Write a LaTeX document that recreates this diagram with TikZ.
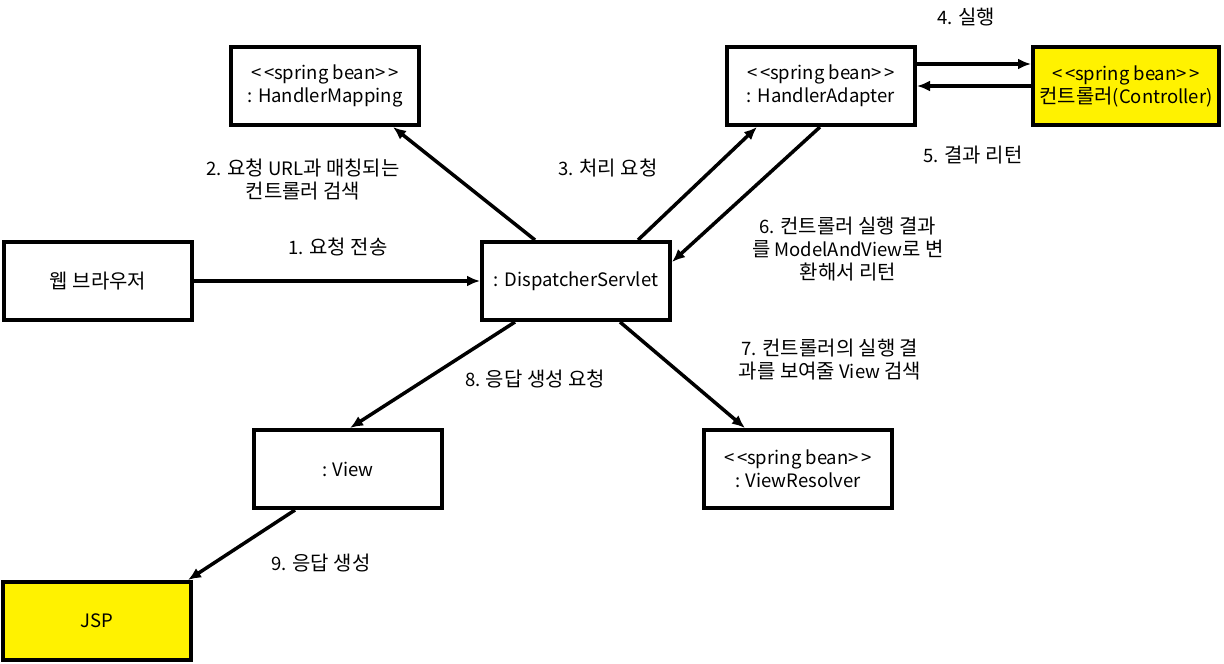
\documentclass[tikz,border=0pt]{standalone}
\usepackage{fontspec}
\setmainfont{Noto Sans CJK KR}
\newfontfamily\kr[Scale=1.078]{Noto Sans CJK KR}
\usetikzlibrary{arrows.meta}
\newcommand{\sbean}{<\kern2.5pt<spring bean>\kern2.5pt>}
\begin{document}
\begin{tikzpicture}[x=1pt,y=-1pt,
  box/.style={draw=black,line width=4pt,minimum width=188pt,minimum height=78pt,inner sep=0pt,align=center,font=\fontsize{18.5}{23}\selectfont},
  ybox/.style={box,fill=yellow},
  arr/.style={line width=3.5pt,-{Latex[length=13pt,width=11pt]}},
  lbl/.style={align=center,font=\fontsize{18.5}{23}\selectfont,inner sep=0pt}]
\useasboundingbox (0,0) rectangle (1224,664);
\node[box] (hm) at (325,86) {\sbean\\: HandlerMapping};
\node[box] (ha) at (821,86) {\sbean\\: HandlerAdapter};
\node[ybox,minimum width=186pt] (ctl) at (1126,86) {\sbean\\{\kr 컨트롤러}(Controller)};
\node[box] (wb) at (98,281) {{\kr 웹 브라우저}};
\node[box] (ds) at (576,281) {: DispatcherServlet};
\node[box] (vw) at (348,469) {: View};
\node[box] (vr) at (798,469) {\sbean\\: ViewResolver};
\node[ybox] (jsp) at (97,621) {JSP};
% connectors
\draw[arr] (wb.east) -- (ds.west);
\draw[arr] ([xshift=-41pt]ds.north) -- ([xshift=68pt]hm.south);
\draw[arr] ([xshift=62pt]ds.north) -- ([xshift=-64pt]ha.south);
\draw[arr] ([xshift=-1pt]ha.south) -- ([yshift=19pt]ds.east);
\draw[arr] ([yshift=22pt]ha.east) -- ([yshift=22pt]ctl.west);
\draw[arr] (ctl.west) -- (ha.east);
\draw[arr] ([xshift=44pt]ds.south) -- ([xshift=-53pt]vr.north);
\draw[arr] ([xshift=-61pt]ds.south) -- ([xshift=2pt]vw.north);
\draw[arr] ([xshift=-53pt]vw.south) -- ([xshift=91pt]jsp.north);
% labels
\node[lbl] (l1) at (338,247) {1. {\kr 요청 전송}};
\node[lbl] (l2) at (303,179) {2. {\kr 요청} URL{\kr 과 매칭되는}\\{\kr 컨트롤러 검색}};
\node[lbl] (l3) at (608,168) {3. {\kr 처리 요청}};
\node[lbl] (l4) at (966,17) {4. {\kr 실행}};
\node[lbl] (l5) at (973,155) {5. {\kr 결과 리턴}};
\node[lbl] (l6) at (848,249) {6. {\kr 컨트롤러 실행 결과}\\{\kr 를} ModelAndView{\kr 로 변}\\{\kr 환해서 리턴}};
\node[lbl] (l7) at (830,360) {7. {\kr 컨트롤러의 실행 결}\\{\kr 과를 보여줄} View {\kr 검색}};
\node[lbl] (l8) at (535,379) {8. {\kr 응답 생성 요청}};
\node[lbl] (l9) at (321,563) {9. {\kr 응답 생성}};
\end{tikzpicture}
\end{document}
